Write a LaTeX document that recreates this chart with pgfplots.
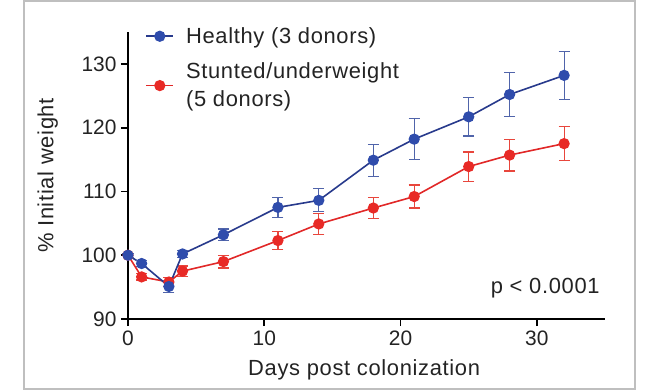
\documentclass[border=0pt]{standalone}
\usepackage{pgfplots}
\pgfplotsset{compat=1.18}
\usepackage{fontspec}
\setmainfont{Liberation Sans}
\newfontfamily\lblfont{Liberation Sans}[LetterSpace=3]
\definecolor{cblue}{RGB}{47,76,172}
\definecolor{cblueline}{RGB}{40,58,140}
\definecolor{cblueerr}{RGB}{80,100,170}
\definecolor{cred}{RGB}{232,42,38}
\definecolor{credline}{RGB}{225,40,40}
\definecolor{crederr}{RGB}{232,70,60}
\definecolor{ctext}{RGB}{35,35,35}
\pgfplotstableread{
x y e
0 100.0 0.3
1 98.7 0.5
3 95.1 0.9
4 100.2 0.5
7 103.2 0.9
11 107.5 1.6
14 108.6 1.8
18 114.9 2.5
21 118.2 3.2
25 121.7 3.0
28 125.2 3.4
32 128.2 3.8
}\healthy
\pgfplotstableread{
x y e
0 100.0 0.3
1 96.6 0.5
3 95.8 0.7
4 97.5 0.8
7 99.0 1.0
11 102.3 1.4
14 104.9 1.6
18 107.4 1.6
21 109.2 1.8
25 113.9 2.3
28 115.7 2.5
32 117.5 2.7
}\stunted
\begin{document}
\begin{tikzpicture}
\useasboundingbox (0,0) rectangle (649bp,391bp);
\draw[line width=1.5bp, color=black!25] (24bp,2bp) rectangle (635bp,390bp);
\begin{axis}[
  at={(128bp,72bp)}, anchor=south west,
  scale only axis, width=477bp, height=287bp,
  xmin=0, xmax=35, ymin=90, ymax=135,
  axis lines=left, axis line style={-, line width=1.8bp, black},
  xtick={0,10,20,30}, ytick={90,100,110,120,130},
  tick align=outside, major tick length=7bp,
  tick style={line width=1.8bp, black},
  /pgf/number format/assume math mode=true,
  tick label style={font=\fontsize{21}{25}\selectfont, text=ctext},
  xticklabel style={yshift=-1bp},
  yticklabel style={xshift=-1bp},
  clip=false,
  xlabel={Days post colonization}, ylabel={\% Initial weight},
  every axis x label/.style={at={(axis description cs:0.495,-0.178)}, anchor=center,
    font=\lblfont\fontsize{22}{26}\selectfont, text=ctext},
  every axis y label/.style={at={(axis description cs:-0.1685,0.5)}, anchor=center, rotate=90,
    font=\lblfont\fontsize{22}{26}\selectfont, text=ctext},
  legend image code/.code={\draw[mark repeat=2,mark phase=2,#1] plot coordinates {(0bp,0bp) (13.5bp,0bp) (27bp,0bp)};},
  legend style={at={(axis description cs:0.030,1.03)}, anchor=north west, draw=none, fill=none,
    font=\lblfont\fontsize{22}{28}\selectfont, text=ctext, row sep=14bp, column sep=10bp,
    nodes={align=left, inner sep=2bp}},
  legend cell align=left,
  reverse legend,
]
\addplot[credline, line width=1.6bp, mark=*, mark size=4.8bp, mark options={cred, fill=cred},
  error bars/.cd, y dir=both, y explicit,
  error bar style={line width=1.2bp, crederr},
  error mark options={rotate=90, line width=1.2bp, mark size=5.5bp, crederr}]
  table[x=x, y=y, y error=e] {\stunted};
\addlegendentry{Stunted/underweight\\(5 donors)}
\addplot[cblueline, line width=1.6bp, mark=*, mark size=4.8bp, mark options={cblue, fill=cblue},
  error bars/.cd, y dir=both, y explicit,
  error bar style={line width=1.2bp, cblueerr},
  error mark options={rotate=90, line width=1.2bp, mark size=5.5bp, cblueerr}]
  table[x=x, y=y, y error=e] {\healthy};
\addlegendentry{Healthy (3 donors)}
\node[anchor=east, font=\lblfont\fontsize{22}{26}\selectfont, text=ctext] at (axis description cs:0.996,0.108) {p < 0.0001};
\end{axis}
\end{tikzpicture}
\end{document}
